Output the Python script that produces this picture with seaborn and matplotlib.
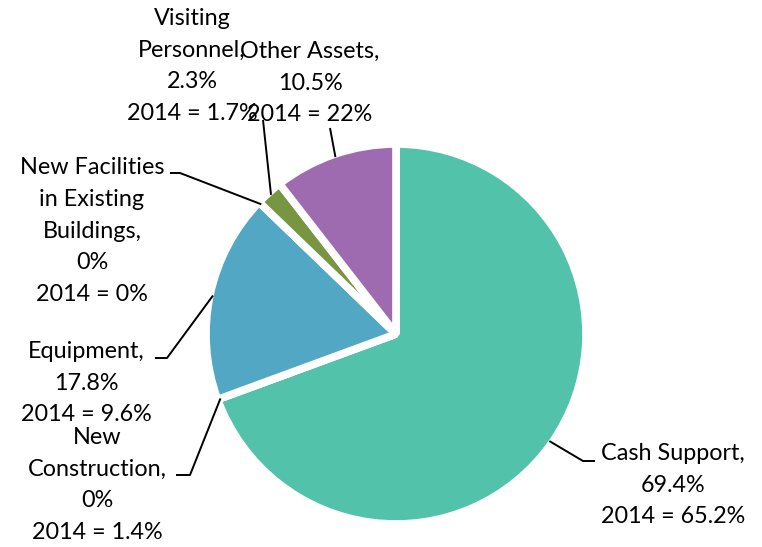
import numpy as np
import matplotlib.pyplot as plt
import seaborn as sns

# Datos del gráfico (sentido horario desde las 12)
categorias = ["Cash Support", "New Construction", "Equipment",
              "New Facilities in Existing Buildings", "Visiting Personnel",
              "Other Assets"]
etiquetas = ["Cash Support,", "New\nConstruction,", "Equipment,",
             "New Facilities\nin Existing\nBuildings,", "Visiting\nPersonnel,",
             "Other Assets,"]
valores_2015 = [69.4, 0.0, 17.8, 0.0, 2.3, 10.5]
valores_2014 = [65.2, 1.4, 9.6, 0.0, 1.7, 22.0]
colores = ["#52C3AA", "#52C3AA", "#52A7C5", "#52A7C5", "#789641", "#9E6BB0"]

# Posiciones de etiquetas y codos de las líneas guía (en píxeles, y hacia abajo)
pos_texto = [(673, 485), (97, 485), (86, 383), (92, 231), (192, 66), (310, 83)]
codos = [[(583, 461), (595, 461)],
         [(190, 475), (176, 475)],
         [(167, 358), (155, 358)],
         [(180, 173), (170, 173)],
         [(263, 120)],
         [(330, 128)]]

W, H = 762, 547
CX, CY, R = 396, 334, 190

sns.set_style("white")
plt.rcParams["font.family"] = ["Lato", "DejaVu Sans"]

fig = plt.figure(figsize=(W / 100, H / 100), dpi=100)
ax = fig.add_axes([0, 0, 1, 1])
ax.set_aspect("equal")
ax.axis("off")

ax.pie(valores_2015, colors=colores, startangle=90, counterclock=False,
       center=(CX, H - CY), radius=R, normalize=True,
       wedgeprops=dict(edgecolor="white", linewidth=5.5, joinstyle="bevel"))
ax.set_xlim(0, W)
ax.set_ylim(0, H)

total = sum(valores_2015)
inicio = 0.0
for i, v in enumerate(valores_2015):
    medio = inicio + v / total * 360 / 2
    inicio += v / total * 360
    ang = np.radians(90 - medio)
    x0 = CX + (R - 3) * np.cos(ang)
    y0 = CY - (R - 3) * np.sin(ang)
    pts = [(x0, y0)] + codos[i]
    xs = [p[0] for p in pts]
    ys = [H - p[1] for p in pts]
    ax.plot(xs, ys, color="black", lw=1.4, solid_capstyle="butt")

    texto = f"{etiquetas[i]}\n{valores_2015[i]:g}%\n2014 = {valores_2014[i]:g}%"
    tx, ty = pos_texto[i]
    ax.text(tx, H - ty, texto, ha="center", va="center", fontsize=16.8,
            linespacing=1.62, color="black")

fig.savefig("out.png", dpi=100)
